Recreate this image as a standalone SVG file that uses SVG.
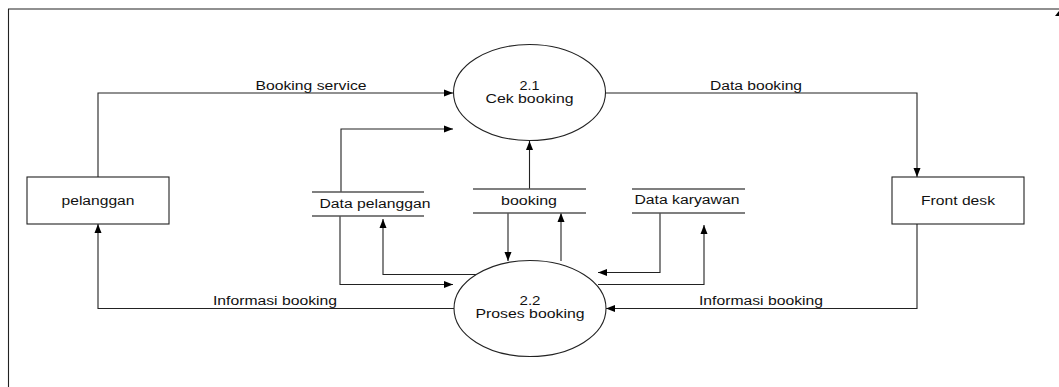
<svg xmlns="http://www.w3.org/2000/svg" width="1059" height="387" viewBox="0 0 1059 387">
<style>
text{font-family:"Liberation Sans",Arial,sans-serif;font-size:12px;fill:#111;text-anchor:middle}
.ln{fill:none;stroke:#222;stroke-width:1.1}
.st{stroke:#555;stroke-width:1.3}
.nd{fill:#fff;stroke:#222;stroke-width:1.1}
</style>
<defs>
<marker id="ah" markerUnits="userSpaceOnUse" markerWidth="10" markerHeight="8" refX="9" refY="4" orient="auto">
<path d="M0,0.5 L9,4 L0,7.5 Z" fill="#000"/>
</marker>
</defs>
<rect width="1059" height="387" fill="#fff"/>
<g id="frame">
<path class="ln" d="M8.5,387 V9 H1059"/>
<polygon points="1055,16 1059,11 1059,16" fill="#000"/>
</g>
<g id="connectors">
<polyline class="ln" points="98,177 98,93 453,93" marker-end="url(#ah)"/>
<polyline class="ln" points="341,192 341,129 453,129" marker-end="url(#ah)"/>
<polyline class="ln" points="529.5,189 529.5,141" marker-end="url(#ah)"/>
<polyline class="ln" points="606,93 917,93 917,177" marker-end="url(#ah)"/>
<polyline class="ln" points="917,224 917,308.5 606,308.5" marker-end="url(#ah)"/>
<polyline class="ln" points="454,308.5 98,308.5 98,224" marker-end="url(#ah)"/>
<polyline class="ln" points="508,213 508,261" marker-end="url(#ah)"/>
<polyline class="ln" points="561,261 561,213" marker-end="url(#ah)"/>
<polyline class="ln" points="340,216 340,284.5 453,284.5" marker-end="url(#ah)"/>
<polyline class="ln" points="476,274.5 383,274.5 383,219" marker-end="url(#ah)"/>
<polyline class="ln" points="660,213 660,272.5 598,272.5" marker-end="url(#ah)"/>
<polyline class="ln" points="598,284.5 704,284.5 704,225" marker-end="url(#ah)"/>
<text x="311" y="90" textLength="111" lengthAdjust="spacingAndGlyphs">Booking service</text>
<text x="756" y="90" textLength="92" lengthAdjust="spacingAndGlyphs">Data booking</text>
<text x="275" y="305" textLength="124" lengthAdjust="spacingAndGlyphs">Informasi booking</text>
<text x="761" y="305" textLength="124" lengthAdjust="spacingAndGlyphs">Informasi booking</text>
</g>
<g id="pelanggan">
<rect class="nd" x="27" y="177" width="142" height="47"/>
<text x="98" y="205" textLength="73" lengthAdjust="spacingAndGlyphs">pelanggan</text>
</g>
<g id="front-desk">
<rect class="nd" x="892" y="177" width="132" height="47"/>
<text x="958" y="205" textLength="74" lengthAdjust="spacingAndGlyphs">Front desk</text>
</g>
<g id="p21">
<ellipse class="nd" cx="529.5" cy="92.5" rx="76" ry="48"/>
<text x="529.5" y="90" textLength="20" lengthAdjust="spacingAndGlyphs">2.1</text>
<text x="529.5" y="103" textLength="88" lengthAdjust="spacingAndGlyphs">Cek booking</text>
</g>
<g id="p22">
<ellipse class="nd" cx="530" cy="308.5" rx="76" ry="48"/>
<text x="530" y="305" textLength="21" lengthAdjust="spacingAndGlyphs">2.2</text>
<text x="530" y="318" textLength="109" lengthAdjust="spacingAndGlyphs">Proses booking</text>
</g>
<g id="ds-data-pelanggan">
<line class="st" x1="312" y1="192" x2="424" y2="192"/>
<line class="st" x1="312" y1="216" x2="424" y2="216"/>
<text x="375" y="208" textLength="111" lengthAdjust="spacingAndGlyphs">Data pelanggan</text>
</g>
<g id="ds-booking">
<line class="st" x1="473" y1="189" x2="586" y2="189"/>
<line class="st" x1="473" y1="213" x2="586" y2="213"/>
<text x="529" y="205" textLength="56" lengthAdjust="spacingAndGlyphs">booking</text>
</g>
<g id="ds-data-karyawan">
<line class="st" x1="632" y1="189" x2="745" y2="189"/>
<line class="st" x1="632" y1="213" x2="745" y2="213"/>
<text x="687" y="204" textLength="105" lengthAdjust="spacingAndGlyphs">Data karyawan</text>
</g>
</svg>
